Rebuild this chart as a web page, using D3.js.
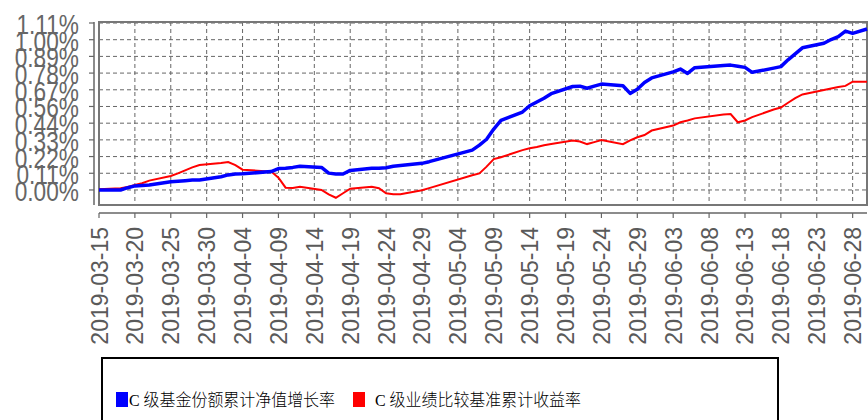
<!DOCTYPE html>
<html>
<head>
<meta charset="utf-8">
<script src="https://cdn.jsdelivr.net/npm/d3@7"></script>
<style>
    body { margin: 0; background: #fff; }
    #chart { width: 868px; height: 420px; overflow: hidden; }
</style>
</head>
<body>
<div id="chart"></div>
<script>
/*global d3*/
var dates = ["2019-03-15", "2019-03-18", "2019-03-19", "2019-03-20", "2019-03-21", "2019-03-22",
    "2019-03-25", "2019-03-26", "2019-03-27", "2019-03-28", "2019-03-29",
    "2019-04-01", "2019-04-02", "2019-04-03", "2019-04-04",
    "2019-04-08", "2019-04-09", "2019-04-10", "2019-04-11", "2019-04-12",
    "2019-04-15", "2019-04-16", "2019-04-17", "2019-04-18", "2019-04-19",
    "2019-04-22", "2019-04-23", "2019-04-24", "2019-04-25", "2019-04-26",
    "2019-04-29", "2019-04-30",
    "2019-05-06", "2019-05-07", "2019-05-08", "2019-05-09", "2019-05-10",
    "2019-05-13", "2019-05-14", "2019-05-15", "2019-05-16", "2019-05-17",
    "2019-05-20", "2019-05-21", "2019-05-22", "2019-05-23", "2019-05-24",
    "2019-05-27", "2019-05-28", "2019-05-29", "2019-05-30", "2019-05-31",
    "2019-06-03", "2019-06-04", "2019-06-05", "2019-06-06",
    "2019-06-10", "2019-06-11", "2019-06-12", "2019-06-13", "2019-06-14",
    "2019-06-17", "2019-06-18", "2019-06-19", "2019-06-20", "2019-06-21",
    "2019-06-24", "2019-06-25", "2019-06-26", "2019-06-27", "2019-06-28",
    "2019-06-30"];

// C级基金份额累计净值增长率 (%)
var navGrowth = [0.000, 0.000, 0.015, 0.027, 0.030, 0.033,
    0.055, 0.058, 0.062, 0.066, 0.066,
    0.088, 0.100, 0.106, 0.108,
    0.122, 0.142, 0.144, 0.150, 0.158,
    0.150, 0.112, 0.106, 0.106, 0.130,
    0.144, 0.144, 0.148, 0.158, 0.162,
    0.177, 0.188,
    0.265, 0.298, 0.337, 0.405, 0.462,
    0.518, 0.560, 0.585, 0.610, 0.640,
    0.688, 0.690, 0.676, 0.690, 0.704,
    0.693, 0.642, 0.670, 0.715, 0.745,
    0.785, 0.804, 0.775, 0.813,
    0.828, 0.830, 0.822, 0.815, 0.782,
    0.810, 0.820, 0.865, 0.905, 0.945,
    0.975, 1.000, 1.020, 1.056, 1.041,
    1.070];

// C级业绩比较基准累计收益率 (%)
var benchmark = [0.005, 0.011, 0.020, 0.033, 0.045, 0.062,
    0.093, 0.110, 0.130, 0.150, 0.166,
    0.180, 0.186, 0.165, 0.135,
    0.122, 0.082, 0.015, 0.013, 0.022,
    0.000, -0.030, -0.052, -0.022, 0.008,
    0.022, 0.012, -0.022, -0.028, -0.029,
    -0.002, 0.012,
    0.098, 0.110, 0.155, 0.205, 0.218,
    0.265, 0.277, 0.285, 0.297, 0.305,
    0.328, 0.322, 0.305, 0.318, 0.332,
    0.304, 0.330, 0.350, 0.365, 0.395,
    0.428, 0.450, 0.462, 0.476,
    0.502, 0.505, 0.450, 0.462, 0.484,
    0.535, 0.548, 0.580, 0.610, 0.635,
    0.664, 0.675, 0.684, 0.692, 0.720,
    0.720];

var xTicks = ["2019-03-15", "2019-03-20", "2019-03-25", "2019-03-30", "2019-04-04", "2019-04-09",
    "2019-04-14", "2019-04-19", "2019-04-24", "2019-04-29", "2019-05-04", "2019-05-09",
    "2019-05-14", "2019-05-19", "2019-05-24", "2019-05-29", "2019-06-03", "2019-06-08",
    "2019-06-13", "2019-06-18", "2019-06-23", "2019-06-28"];

var yTicks = [0, 0.111, 0.222, 0.333, 0.444, 0.555, 0.666, 0.777, 0.888, 0.999, 1.11];

var seriesNames = ["C 级基金份额累计净值增长率", "C 级业绩比较基准累计收益率"];
var seriesColors = ["#0000ff", "#ff0000"];

(function () {
    "use strict";
    var svg, x, y, parse, fmt, plot, rows, line, legend,
        box = {left: 99, right: 867, top: 22, bottom: 205};

    parse = d3.utcParse("%Y-%m-%d");
    fmt = d3.format(".2f");

    rows = dates.map(function (d, i) {
        return {date: parse(d), nav: navGrowth[i], bench: benchmark[i]};
    });

    x = d3.scaleUtc()
        .domain([parse("2019-03-15"), parse("2019-06-30")])
        .range([box.left, box.right]);

    y = d3.scaleLinear()
        .domain([-0.1, 1.11])
        .range([box.bottom, 23]);

    svg = d3.select("#chart").append("svg")
        .attr("width", 868)
        .attr("height", 420);

    // grid
    plot = svg.append("g");
    plot.selectAll("line.hgrid").data(yTicks).enter().append("line")
        .attr("class", "hgrid")
        .attr("x1", box.left).attr("x2", box.right)
        .attr("y1", function (d) { return y(d); })
        .attr("y2", function (d) { return y(d); })
        .attr("stroke", "#666")
        .attr("stroke-width", 1)
        .attr("stroke-dasharray", "4,3");

    plot.selectAll("line.vgrid").data(xTicks).enter().append("line")
        .attr("class", "vgrid")
        .attr("y1", box.top).attr("y2", box.bottom)
        .attr("x1", function (d) { return x(parse(d)); })
        .attr("x2", function (d) { return x(parse(d)); })
        .attr("stroke", "#666")
        .attr("stroke-width", 1)
        .attr("stroke-dasharray", "4,3");

    // frame
    plot.append("rect")
        .attr("x", box.left).attr("y", box.top)
        .attr("width", box.right - box.left)
        .attr("height", box.bottom - box.top)
        .attr("fill", "none")
        .attr("stroke", "#777")
        .attr("stroke-width", 2);

    // y axis
    svg.append("line")
        .attr("x1", 94).attr("x2", 94)
        .attr("y1", box.top).attr("y2", box.bottom)
        .attr("stroke", "#666").attr("stroke-width", 1.5);
    svg.selectAll("line.ytick").data(yTicks).enter().append("line")
        .attr("class", "ytick")
        .attr("x1", 89).attr("x2", 94)
        .attr("y1", function (d) { return y(d); })
        .attr("y2", function (d) { return y(d); })
        .attr("stroke", "#666").attr("stroke-width", 1.2);
    svg.selectAll("text.ylab").data(yTicks).enter().append("text")
        .attr("class", "ylab")
        .attr("transform", function (d) {
            return "translate(79," + (y(d) + 11) + ") scale(0.84,1)";
        })
        .attr("text-anchor", "end")
        .attr("font-family", "Liberation Sans, Arial, sans-serif")
        .attr("font-size", 27)
        .attr("fill", "#666")
        .text(function (d) { return fmt(d) + "%"; });

    // x axis
    svg.append("line")
        .attr("x1", box.left).attr("x2", box.right)
        .attr("y1", 213).attr("y2", 213)
        .attr("stroke", "#666").attr("stroke-width", 1.5);
    svg.selectAll("line.xtick").data(xTicks).enter().append("line")
        .attr("class", "xtick")
        .attr("y1", 213).attr("y2", 218)
        .attr("x1", function (d) { return x(parse(d)); })
        .attr("x2", function (d) { return x(parse(d)); })
        .attr("stroke", "#666").attr("stroke-width", 1.2);
    svg.selectAll("text.xlab").data(xTicks).enter().append("text")
        .attr("class", "xlab")
        .attr("transform", function (d) {
            return "translate(" + (x(parse(d)) + 8.5) + ",227) rotate(-90)";
        })
        .attr("text-anchor", "end")
        .attr("font-family", "Liberation Sans, Arial, sans-serif")
        .attr("font-size", 23)
        .attr("fill", "#5a5a5a")
        .text(function (d) { return d; });

    // lines
    line = function (key) {
        return d3.line()
            .x(function (d) { return x(d.date); })
            .y(function (d) { return y(d[key]); });
    };
    svg.append("path").datum(rows)
        .attr("d", line("bench"))
        .attr("fill", "none")
        .attr("stroke", seriesColors[1])
        .attr("stroke-width", 2);
    svg.append("path").datum(rows)
        .attr("d", line("nav"))
        .attr("fill", "none")
        .attr("stroke", seriesColors[0])
        .attr("stroke-width", 3.5)
        .attr("stroke-linejoin", "round");

    // legend
    legend = svg.append("g");
    legend.append("rect")
        .attr("x", 102).attr("y", 358)
        .attr("width", 676).attr("height", 80)
        .attr("fill", "none")
        .attr("stroke", "#000")
        .attr("stroke-width", 2);
    legend.selectAll("rect.key").data(seriesColors).enter().append("rect")
        .attr("class", "key")
        .attr("x", function (d, i) { return i === 0 ? 116 : 353; })
        .attr("y", 392)
        .attr("width", 12).attr("height", 15)
        .attr("fill", function (d) { return d; });
    legend.selectAll("text.key").data(seriesNames).enter().append("text")
        .attr("class", "key")
        .attr("x", function (d, i) { return i === 0 ? 129 : 375; })
        .attr("y", 406)
        .attr("font-family", "Liberation Serif, Noto Sans CJK SC, serif")
        .attr("font-size", 17)
        .attr("font-weight", 300)
        .attr("textLength", 206)
        .attr("lengthAdjust", "spacingAndGlyphs")
        .attr("fill", "#000")
        .text(function (d) { return d; });
}());
</script>
</body>
</html>
